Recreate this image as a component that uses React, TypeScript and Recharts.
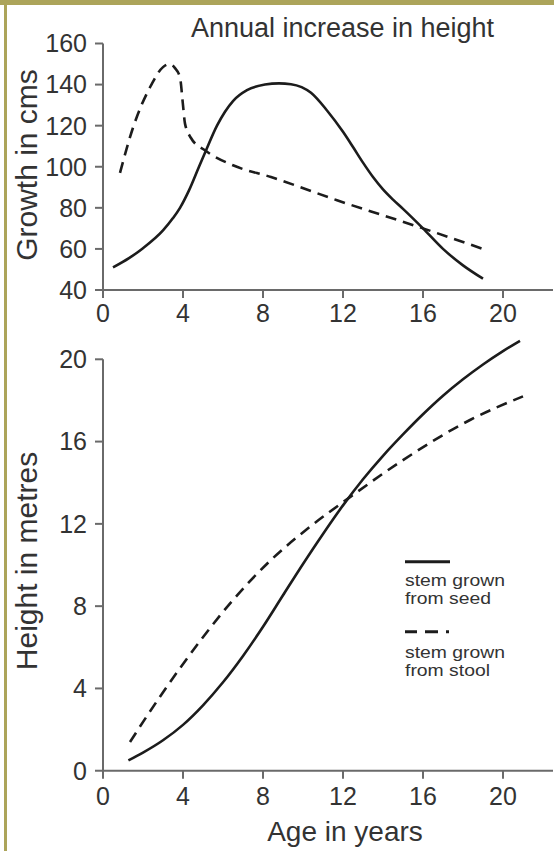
import React from 'react';
import { LineChart, Line, XAxis, YAxis, ReferenceLine } from 'recharts';

// ---- data ----
const ageTicks = [0, 4, 8, 12, 16, 20];
const growthTicks = [40, 60, 80, 100, 120, 140, 160];
const heightTicks = [0, 4, 8, 12, 16, 20];

// Annual increase in height (cm) - stem grown from seed
const growthSeed = [
  { age: 0.5, v: 51 }, { age: 1.3, v: 55.5 }, { age: 1.95, v: 60 }, { age: 3.0, v: 69 },
  { age: 3.5, v: 75 }, { age: 3.85, v: 80 }, { age: 4.3, v: 88.5 }, { age: 4.8, v: 100 },
  { age: 5.1, v: 106.8 }, { age: 5.7, v: 120 }, { age: 6.1, v: 126.8 }, { age: 6.5, v: 132 },
  { age: 7.2, v: 137.3 }, { age: 8.1, v: 140 }, { age: 8.8, v: 140.6 }, { age: 9.4, v: 140.2 },
  { age: 10.4, v: 136 }, { age: 11.2, v: 127.4 }, { age: 12, v: 117 }, { age: 12.5, v: 109.6 },
  { age: 13, v: 102 }, { age: 13.5, v: 95 }, { age: 14, v: 89 }, { age: 14.5, v: 84 },
  { age: 15, v: 79.5 }, { age: 16, v: 70 }, { age: 17, v: 60 }, { age: 18, v: 52 },
  { age: 19, v: 45.5 },
];
// Annual increase in height (cm) - stem grown from stool
const growthStool = [
  { age: 0.85, v: 97 }, { age: 1.5, v: 119 }, { age: 2.35, v: 138.7 }, { age: 3.0, v: 148.5 },
  { age: 3.3, v: 150 }, { age: 3.6, v: 148 }, { age: 3.85, v: 143.5 }, { age: 4.0, v: 130 },
  { age: 4.1, v: 121 }, { age: 4.4, v: 114 }, { age: 5.1, v: 108 }, { age: 6.5, v: 100.7 },
  { age: 8.4, v: 95 }, { age: 11.7, v: 83.7 }, { age: 16, v: 70 }, { age: 19, v: 60 },
];
// Height in metres - stem grown from seed
const heightSeed = [
  { age: 1.27, v: 0.5 }, { age: 2, v: 0.88 }, { age: 3, v: 1.48 }, { age: 4, v: 2.23 },
  { age: 5, v: 3.18 }, { age: 6, v: 4.3 }, { age: 7, v: 5.58 }, { age: 8, v: 7.0 },
  { age: 9, v: 8.53 }, { age: 10, v: 10.05 }, { age: 11, v: 11.51 }, { age: 12, v: 12.9 },
  { age: 13, v: 14.17 }, { age: 14, v: 15.31 }, { age: 15, v: 16.35 }, { age: 16, v: 17.33 },
  { age: 17, v: 18.23 }, { age: 18, v: 19.03 }, { age: 19, v: 19.75 }, { age: 20, v: 20.4 },
  { age: 20.85, v: 20.9 },
];
// Height in metres - stem grown from stool
const heightStool = [
  { age: 1.35, v: 1.4 }, { age: 2.85, v: 3.6 }, { age: 4.85, v: 6.3 }, { age: 6.5, v: 8.3 },
  { age: 8.35, v: 10.2 }, { age: 10.35, v: 11.86 }, { age: 12.35, v: 13.3 }, { age: 15, v: 15.1 },
  { age: 18.35, v: 17.05 }, { age: 21, v: 18.2 },
];

const FONT = '"Liberation Sans", Arial, Helvetica, sans-serif';
const AXIS = '#6a6a6a';
const TEXT = '#333333';
const INK = '#1c1c1c';

const tickStyle = { fontSize: 25, fill: TEXT, fontFamily: FONT };
const axisLine = { stroke: AXIS, strokeWidth: 2 };
const tickLine = { stroke: AXIS, strokeWidth: 2 };

export default function App() {
  return (
    <div style={{ position: 'absolute', left: 0, top: 0, width: 554, height: 851, background: '#fff', overflow: 'hidden', fontFamily: FONT }}>
      {/* frame */}
      <div style={{ position: 'absolute', left: 0, top: 0, width: 554, height: 4.5, background: '#aca45a' }} />
      <div style={{ position: 'absolute', left: 4, top: 0, width: 3.3, height: 851, background: '#aca45a' }} />

      {/* Top chart */}
      <div style={{ position: 'absolute', left: 0, top: 0 }}>
        <LineChart width={554} height={340} margin={{ top: 43.5, right: 1, bottom: 20, left: 0 }}>
          <XAxis
            dataKey="age" type="number" domain={[0, 22.5]} ticks={ageTicks} allowDataOverflow
            height={30} tickSize={8} tickMargin={6} tick={tickStyle} axisLine={axisLine} tickLine={tickLine}
          />
          <YAxis
            type="number" domain={[40, 160]} ticks={growthTicks} width={103}
            tickSize={8} tickMargin={8} tick={tickStyle} axisLine={axisLine} tickLine={tickLine}
          />
          <Line data={growthSeed} dataKey="v" type="monotone" stroke={INK} strokeWidth={2.6} dot={false} isAnimationActive={false} />
          <Line data={growthStool} dataKey="v" type="monotone" stroke={INK} strokeWidth={2.6} strokeDasharray="11 7" dot={false} isAnimationActive={false} />
        </LineChart>
      </div>

      {/* Bottom chart */}
      <div style={{ position: 'absolute', left: 0, top: 320 }}>
        <LineChart width={554} height={531} margin={{ top: 18.73, right: 1, bottom: 40.27, left: 0 }}>
          <XAxis
            dataKey="age" type="number" domain={[0, 22.5]} ticks={ageTicks} allowDataOverflow
            height={40} tickSize={8} tickMargin={9} tick={tickStyle} axisLine={axisLine} tickLine={tickLine}
          />
          <YAxis
            type="number" domain={[0, 21]} ticks={heightTicks} width={103} allowDataOverflow
            tickSize={8} tickMargin={8} tick={tickStyle} axisLine={false} tickLine={tickLine}
          />
          <ReferenceLine segment={[{ x: 0, y: 0 }, { x: 0, y: 20 }]} stroke={AXIS} strokeWidth={2} />
          <Line data={heightSeed} dataKey="v" type="monotone" stroke={INK} strokeWidth={2.6} dot={false} isAnimationActive={false} />
          <Line data={heightStool} dataKey="v" type="monotone" stroke={INK} strokeWidth={2.6} strokeDasharray="11 7" dot={false} isAnimationActive={false} />
        </LineChart>
      </div>

      {/* Titles, axis labels and legend */}
      <svg width={554} height={851} style={{ position: 'absolute', left: 0, top: 0, pointerEvents: 'none' }}>
        <text x={342.5} y={36.5} textAnchor="middle" fontSize={27} fill={TEXT} fontFamily={FONT}>Annual increase in height</text>
        <text transform="translate(37,165) rotate(-90)" textAnchor="middle" fontSize={30} fill={TEXT} fontFamily={FONT}>Growth in cms</text>
        <text transform="translate(37,561) rotate(-90)" textAnchor="middle" fontSize={30} fill={TEXT} fontFamily={FONT}>Height in metres</text>
        <text x={345} y={840.5} textAnchor="middle" fontSize={28} fill={TEXT} fontFamily={FONT}>Age in years</text>

        <line x1={405} x2={450} y1={561.7} y2={561.7} stroke={INK} strokeWidth={3} />
        <text x={405} y={585.5} fontSize={16.5} fill={TEXT} fontFamily={FONT} textLength={100} lengthAdjust="spacingAndGlyphs">stem grown</text>
        <text x={405} y={604} fontSize={16.5} fill={TEXT} fontFamily={FONT} textLength={86} lengthAdjust="spacingAndGlyphs">from seed</text>

        <line x1={405} x2={449} y1={631.7} y2={631.7} stroke={INK} strokeWidth={3} strokeDasharray="12 8 13 8 3 100" />
        <text x={405} y={657.5} fontSize={16.5} fill={TEXT} fontFamily={FONT} textLength={100} lengthAdjust="spacingAndGlyphs">stem grown</text>
        <text x={405} y={676} fontSize={16.5} fill={TEXT} fontFamily={FONT} textLength={85} lengthAdjust="spacingAndGlyphs">from stool</text>
      </svg>
    </div>
  );
}
